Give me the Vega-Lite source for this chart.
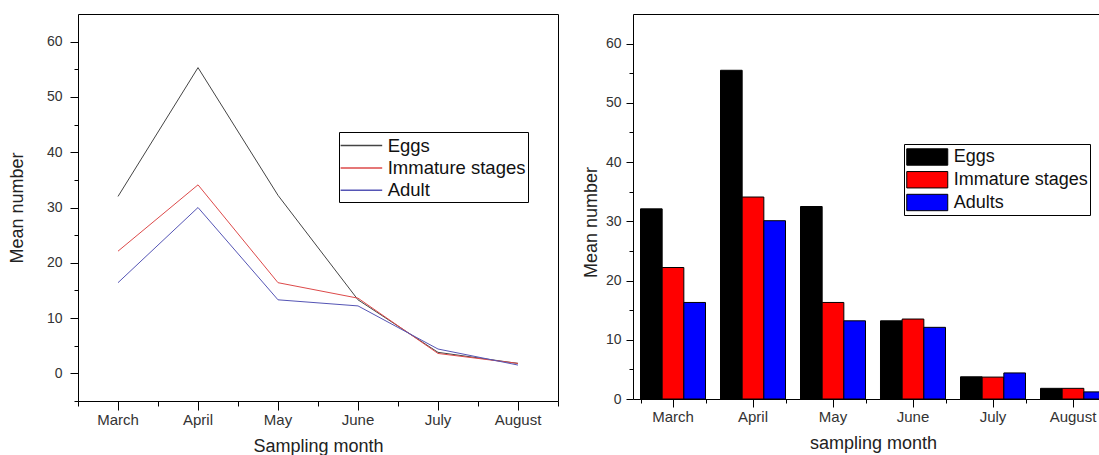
{
  "$schema": "https://vega.github.io/schema/vega-lite/v6.json",
  "padding": {"left": 7, "top": 13, "right": 0, "bottom": 0},
  "background": "white",
  "bounds": "flush",
  "spacing": 75,
  "config": {
    "font": "Liberation Sans",
    "view": {"stroke": "black", "strokeWidth": 1},
    "axis": {"domain": false, "grid": false, "tickColor": "black", "tickWidth": 1, "labelColor": "#333333", "labelFontSize": 14, "labelFont": "Liberation Sans", "titleFont": "Liberation Sans", "titleFontSize": 18, "titleFontWeight": "normal", "titleColor": "#222222"},
    "legend": {"labelFont": "Liberation Sans", "labelFontSize": 18, "labelColor": "#111111", "strokeColor": "black", "padding": 2, "fillColor": "white"}
  },
  "datasets": {
    "lines": [
      {"month": "March", "series": "Eggs", "value": 32},
      {"month": "April", "series": "Eggs", "value": 55.3},
      {"month": "May", "series": "Eggs", "value": 32.2},
      {"month": "June", "series": "Eggs", "value": 13.3},
      {"month": "July", "series": "Eggs", "value": 3.8},
      {"month": "August", "series": "Eggs", "value": 1.8},
      {"month": "March", "series": "Immature stages", "value": 22.1},
      {"month": "April", "series": "Immature stages", "value": 34.1},
      {"month": "May", "series": "Immature stages", "value": 16.4},
      {"month": "June", "series": "Immature stages", "value": 13.6},
      {"month": "July", "series": "Immature stages", "value": 3.6},
      {"month": "August", "series": "Immature stages", "value": 1.8},
      {"month": "March", "series": "Adult", "value": 16.4},
      {"month": "April", "series": "Adult", "value": 30.0},
      {"month": "May", "series": "Adult", "value": 13.3},
      {"month": "June", "series": "Adult", "value": 12.2},
      {"month": "July", "series": "Adult", "value": 4.4},
      {"month": "August", "series": "Adult", "value": 1.5}
    ],
    "bars": [
      {"month": "March", "series": "Eggs", "value": 32.1},
      {"month": "April", "series": "Eggs", "value": 55.5},
      {"month": "May", "series": "Eggs", "value": 32.5},
      {"month": "June", "series": "Eggs", "value": 13.2},
      {"month": "July", "series": "Eggs", "value": 3.75},
      {"month": "August", "series": "Eggs", "value": 1.8},
      {"month": "March", "series": "Immature stages", "value": 22.2},
      {"month": "April", "series": "Immature stages", "value": 34.1},
      {"month": "May", "series": "Immature stages", "value": 16.3},
      {"month": "June", "series": "Immature stages", "value": 13.5},
      {"month": "July", "series": "Immature stages", "value": 3.7},
      {"month": "August", "series": "Immature stages", "value": 1.8},
      {"month": "March", "series": "Adults", "value": 16.3},
      {"month": "April", "series": "Adults", "value": 30.1},
      {"month": "May", "series": "Adults", "value": 13.2},
      {"month": "June", "series": "Adults", "value": 12.1},
      {"month": "July", "series": "Adults", "value": 4.4},
      {"month": "August", "series": "Adults", "value": 1.2}
    ]
  },
  "hconcat": [
    {
      "width": 480,
      "height": 387,
      "data": {"name": "lines"},
      "layer": [
        {
          "mark": {"type": "line", "strokeWidth": 1},
          "encoding": {
            "x": {"field": "month", "type": "ordinal", "sort": ["March", "April", "May", "June", "July", "August"], "scale": {"paddingInner": 0, "paddingOuter": 0}, "axis": {"orient": "bottom", "title": "Sampling month", "labelAngle": 0, "labelFontSize": 15, "tickSize": 9, "labelPadding": 2, "titlePadding": 10}},
            "y": {"field": "value", "type": "quantitative", "scale": {"domain": [-5, 65], "nice": false, "zero": false}, "axis": {"orient": "left", "title": "Mean number", "values": [0, 10, 20, 30, 40, 50, 60], "tickSize": 8, "labelPadding": 8, "titlePadding": 20}},
            "color": {"field": "series", "type": "nominal", "scale": {"domain": ["Eggs", "Immature stages", "Adult"], "range": ["#444444", "#dd4a4a", "#5555b5"]}, "legend": {"orient": "none", "legendX": 261, "legendY": 118, "title": null, "symbolType": "M-2,0H2", "symbolSize": 432.6, "symbolStrokeWidth": 1.5, "symbolOffset": 8.9, "labelOffset": 14.8, "labelFontSize": 18.5, "rowPadding": 1.4}}
          }
        },
        {
          "mark": {"type": "point", "opacity": 0},
          "encoding": {
            "x": {"field": "month", "type": "ordinal", "sort": ["March", "April", "May", "June", "July", "August"], "axis": {"orient": "bottom", "title": null, "labels": false, "tickBand": "extent", "tickSize": 5}},
            "y": {"field": "value", "type": "quantitative", "axis": {"orient": "left", "title": null, "labels": false, "values": [-5, 5, 15, 25, 35, 45, 55], "tickSize": 4}}
          }
        }
      ],
      "resolve": {"axis": {"x": "independent", "y": "independent"}}
    },
    {
      "width": 466,
      "height": 385,
      "data": {"name": "bars"},
      "layer": [
        {
          "mark": {"type": "bar", "stroke": "black", "strokeWidth": 1, "clip": true},
          "encoding": {
            "x": {"field": "month", "type": "ordinal", "sort": ["March", "April", "May", "June", "July", "August"], "scale": {"paddingInner": 0.1875, "paddingOuter": 0.09375, "range": [0, 480]}, "axis": {"orient": "bottom", "title": "sampling month", "labelAngle": 0, "labelFontSize": 15, "tickSize": 8, "labelPadding": 2, "titlePadding": 10}},
            "xOffset": {"field": "series", "type": "nominal", "sort": ["Eggs", "Immature stages", "Adults"], "scale": {"paddingInner": 0, "paddingOuter": 0}},
            "y": {"field": "value", "type": "quantitative", "scale": {"domain": [0, 65], "nice": false}, "axis": {"orient": "left", "title": "Mean number", "values": [0, 10, 20, 30, 40, 50, 60], "tickSize": 7, "labelPadding": 5, "titlePadding": 5, "titleY": 208}},
            "color": {"field": "series", "type": "nominal", "scale": {"domain": ["Eggs", "Immature stages", "Adults"], "range": ["#000000", "#ff0000", "#0000ff"]}, "legend": {"orient": "none", "legendX": 271, "legendY": 130, "title": null, "symbolType": "M-2,-0.8H2V0.8H-2Z", "symbolSize": 420.25, "symbolStrokeColor": "black", "symbolStrokeWidth": 1, "symbolOffset": 10.25, "labelOffset": 15.5, "rowPadding": 0.75, "labelExpr": "datum.label == 'Eggs' ? '\u00a0Eggs' : datum.label"}}
          }
        },
        {
          "mark": {"type": "point", "opacity": 0},
          "encoding": {
            "x": {"field": "month", "type": "ordinal", "sort": ["March", "April", "May", "June", "July", "August"], "axis": {"orient": "bottom", "title": null, "labels": false, "tickBand": "extent", "tickSize": 4}},
            "y": {"field": "value", "type": "quantitative", "axis": {"orient": "left", "title": null, "labels": false, "values": [5, 15, 25, 35, 45, 55], "tickSize": 4}}
          }
        }
      ],
      "resolve": {"axis": {"x": "independent", "y": "independent"}}
    }
  ],
  "resolve": {"scale": {"color": "independent", "x": "independent", "y": "independent"}, "legend": {"color": "independent"}}
}
